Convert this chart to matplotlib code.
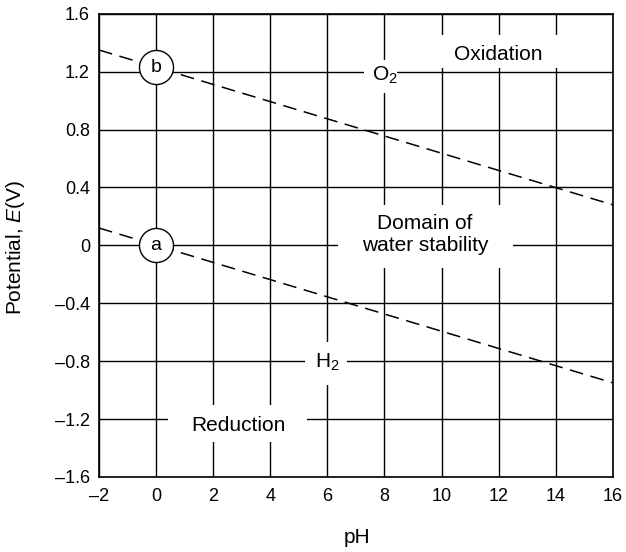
import matplotlib
matplotlib.use("Agg")
import matplotlib.pyplot as plt
from matplotlib.patches import Rectangle

plt.rcParams['font.family'] = ['Liberation Sans', 'DejaVu Sans']
plt.rcParams['mathtext.fontset'] = 'custom'
plt.rcParams['mathtext.rm'] = 'Liberation Sans'
plt.rcParams['mathtext.it'] = 'Liberation Sans:italic'

# pH range covered by the two stability lines
ph_ends = [-2, 16]
# H2 evolution line (a) and O2 evolution line (b), potential in V
e_h2_line = [0.12, -0.95]
e_o2_line = [1.35, 0.28]

x_ticks = [-2, 0, 2, 4, 6, 8, 10, 12, 14, 16]
y_ticks = [-1.6, -1.2, -0.8, -0.4, 0, 0.4, 0.8, 1.2, 1.6]
y_tick_labels = ['\u20131.6', '\u20131.2', '\u20130.8', '\u20130.4', '0', '0.4', '0.8', '1.2', '1.6']
x_tick_labels = ['\u20132', '0', '2', '4', '6', '8', '10', '12', '14', '16']

# circled line markers: label, pH, potential
marker_labels = ['a', 'b']
marker_ph = [0, 0]
marker_e = [0.0, 1.23]

# region labels: text, pH, potential (text anchor)
region_texts = ['Oxidation', 'O$_2$', 'Domain of\nwater stability', 'H$_2$', 'Reduction']
region_ph = [12.0, 8.0, 9.42, 6.0, 2.88]
region_e = [1.282, 1.139, 0.075, -0.847, -1.28]
region_va = ['baseline', 'baseline', 'center', 'baseline', 'baseline']

# white boxes behind the region labels (x0, x1, y0, y1) in data units
label_boxes = [
    (9.80, 14.18, 1.227, 1.455),
    (7.28, 8.44, 1.054, 1.282),
    (6.37, 12.50, -0.155, 0.28),
    (5.21, 6.68, -0.964, -0.667),
    (0.42, 5.28, -1.358, -1.102),
]

fig = plt.figure(figsize=(6.26, 5.52), dpi=100)
ax = fig.add_axes([0.158, 0.136, 0.821, 0.839])

ax.set_xlim(-2, 16)
ax.set_ylim(-1.6, 1.6)
ax.set_xticks(x_ticks)
ax.set_xticklabels(x_tick_labels)
ax.set_yticks(y_ticks)
ax.set_yticklabels(y_tick_labels)
ax.tick_params(axis='y', length=0, pad=6.5, labelsize=13)
ax.tick_params(axis='x', length=0, pad=8, labelsize=13)
ax.grid(True, color='black', linewidth=1.0, zorder=1)
ax.set_axisbelow(True)
for s in ax.spines.values():
    s.set_linewidth(1.2)

for e_line in (e_h2_line, e_o2_line):
    ln, = ax.plot(ph_ends, e_line, color='black', linewidth=1.1, zorder=2,
                  clip_on=False)
    ln.set_dashes((9, 5))

for (x0, x1, y0, y1) in label_boxes:
    ax.add_patch(Rectangle((x0, y0), x1 - x0, y1 - y0, facecolor='white',
                           edgecolor='none', zorder=3))

for txt, px, py, va in zip(region_texts, region_ph, region_e, region_va):
    ax.text(px, py, txt, ha='center', va=va, fontsize=15, zorder=5,
            linespacing=1.15)

for lab, px, py in zip(marker_labels, marker_ph, marker_e):
    ax.plot(px, py, marker='o', markersize=24.5, markerfacecolor='white',
            markeredgecolor='black', markeredgewidth=1.0, zorder=4)
    ax.text(px, py, lab, ha='center', va='center', fontsize=14, zorder=5)

ax.set_xlabel('pH', fontsize=15, va='center')
ax.xaxis.set_label_coords(0.502, -0.13)
ax.set_ylabel('Potential, $\\mathit{E}$(V)', fontsize=15, va='center')
ax.yaxis.set_label_coords(-0.163, 0.495)

fig.savefig('out.png', dpi=100)
